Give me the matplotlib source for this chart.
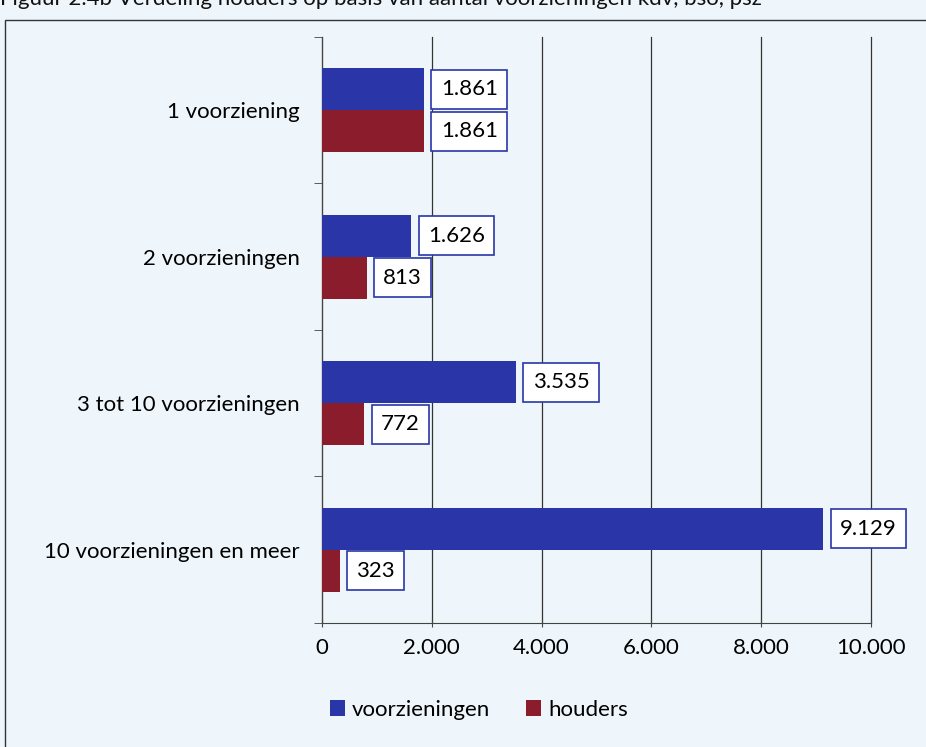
import numpy as np
import matplotlib.pyplot as plt
from matplotlib.patches import Rectangle

categories = ["1 voorziening", "2 voorzieningen", "3 tot 10 voorzieningen", "10 voorzieningen en meer"]
voorzieningen = [1861, 1626, 3535, 9129]
houders = [1861, 813, 772, 323]
labels_v = ["1.861", "1.626", "3.535", "9.129"]
labels_h = ["1.861", "813", "772", "323"]
xticks = [0, 2000, 4000, 6000, 8000, 10000]
xtick_labels = ["0", "2.000", "4.000", "6.000", "8.000", "10.000"]
title = "Figuur 2.4b Verdeling houders op basis van aantal voorzieningen kdv, bso, psz"

bg = "#eff6fb"
blue = "#2a36a8"
red = "#8a1c2c"
plt.rcParams['font.family'] = ['Lato', 'DejaVu Sans']
fs = 16

fig = plt.figure(figsize=(9.26, 7.47), dpi=100)
fig.patch.set_facecolor(bg)
ax = fig.add_axes([0.3477, 0.166, 0.5929, 0.7845])
ax.set_facecolor(bg)

# outer frame, cut off at right and bottom like the scan
fig.patches.append(Rectangle((5 / 926, -0.02), 1.0, 1 - 20 / 747 + 0.02, transform=fig.transFigure,
                             fill=False, edgecolor="#333333", linewidth=1.0))
fig.text(0.0, 1.0 + 0.002, title, ha="left", va="center", fontsize=fs, color="#111111")

y = np.arange(len(categories))
h = 0.287
ax.barh(y - h / 2, voorzieningen, height=h, color=blue, label="voorzieningen", zorder=3)
ax.barh(y + h / 2, houders, height=h, color=red, label="houders", zorder=3)

box = dict(boxstyle="square,pad=0.42", facecolor="white", edgecolor=blue, linewidth=1.2)
for i in range(len(categories)):
    ax.annotate(labels_v[i], (voorzieningen[i], y[i] - h / 2), xytext=(12, 0), textcoords="offset points",
                ha="left", va="center", fontsize=fs, bbox=box, zorder=4)
    ax.annotate(labels_h[i], (houders[i], y[i] + h / 2), xytext=(12, 0), textcoords="offset points",
                ha="left", va="center", fontsize=fs, bbox=box, zorder=4)

ax.set_xlim(0, 10000)
ax.set_ylim(len(categories) - 0.5, -0.5)
ax.set_xticks(xticks)
ax.set_xticklabels(xtick_labels, fontsize=fs)
ax.set_yticks(y)
ax.set_yticklabels(categories, fontsize=fs)
ax.set_yticks(np.arange(len(categories) + 1) - 0.5, minor=True)
ax.tick_params(axis="y", which="major", length=0, pad=16)
ax.tick_params(axis="y", which="minor", length=6, direction="out", color="#444444")
ax.tick_params(axis="x", length=6, direction="inout", color="#444444", pad=8)
ax.grid(axis="x", color="#333333", linewidth=0.9, zorder=0)
for gl in ax.get_xgridlines():
    gl.set_clip_on(False)
for s in ["top", "right"]:
    ax.spines[s].set_visible(False)
ax.spines["left"].set_color("#444444")
ax.spines["bottom"].set_color("#444444")

fig.legend(loc="center", bbox_to_anchor=(0.517, 1 - 710 / 747), ncol=2, frameon=False, fontsize=fs,
           handlelength=0.7, handleheight=0.7, handletextpad=0.3, columnspacing=1.6)

fig.savefig("out.png", dpi=100, facecolor=bg)
